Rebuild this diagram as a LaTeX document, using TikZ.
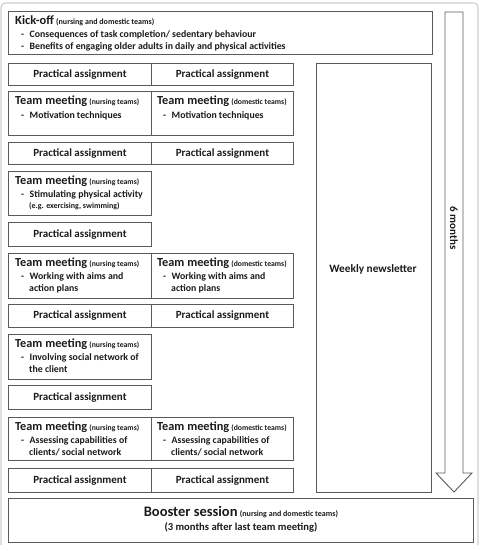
\documentclass[tikz,border=0pt]{standalone}
\usepackage{fontspec}
\setmainfont{Carlito}
\usetikzlibrary{positioning}

\definecolor{boxgray}{HTML}{5A5A5A}
\definecolor{framegray}{HTML}{A8A8A8}
\definecolor{inkgray}{HTML}{1A1A1A}

\tikzset{
  cell/.style={draw=boxgray, line width=0.9pt, anchor=north west, inner sep=0pt},
  pa/.style={cell, minimum height=#1, font=\bfseries\fontsize{11}{13}\selectfont, text=inkgray},
  pa/.default=22pt,
  tmtext/.style={anchor=north west, inner sep=0pt, align=left, text=inkgray,
    font=\bfseries\fontsize{9.8}{12.5}\selectfont},
}
% heading with small team note, and the dashed list lines
\newcommand{\tmhead}[2]{{\fontsize{12.3}{14}\selectfont #1} {\fontsize{7.7}{9}\selectfont(#2)}}
\newcommand{\dashline}[1]{\hspace*{6pt}-\hspace*{5.5pt}#1}
\newcommand{\contline}[1]{\hspace*{14pt}#1}

\begin{document}
\begin{tikzpicture}[x=1pt,y=-1pt]
\useasboundingbox (0,0) rectangle (480,551);

% outer frame
\draw[framegray, line width=0.6pt, rounded corners=4pt] (1,545) -- (1,3) -- (478,3) -- (478,545);

% kick-off
\node[cell, minimum width=424pt, minimum height=43pt] (kick) at (8,11) {};
\node[tmtext, below right=5pt and 7pt of kick.north west] (kicktxt)
  {{\fontsize{12.5}{13}\selectfont Kick-off} {\fontsize{8}{9}\selectfont(nursing and domestic teams)}\\
   \dashline{Consequences of task completion/ sedentary behaviour}\\
   \dashline{Benefits of engaging older adults in daily and physical activities}};

% row 1
\node[pa, minimum width=143pt] (pa1a) at (8,63) {Practical assignment};
\node[pa, minimum width=142pt] (pa1b) at (151,63) {Practical assignment};

% row 2
\node[cell, minimum width=143pt, minimum height=44pt] (tm1a) at (8,91) {};
\node[cell, minimum width=142pt, minimum height=44pt] (tm1b) at (151,91) {};
\node[tmtext, below right=5pt and 7pt of tm1a.north west, font=\bfseries\fontsize{9.8}{14}\selectfont] {\tmhead{Team meeting}{nursing teams}\\ \dashline{Motivation techniques}};
\node[tmtext, below right=5pt and 6pt of tm1b.north west, font=\bfseries\fontsize{9.8}{14}\selectfont] {\tmhead{Team meeting}{domestic teams}\\ \dashline{Motivation techniques}};

% row 3
\node[pa, minimum width=143pt] (pa2a) at (8,142) {Practical assignment};
\node[pa, minimum width=142pt] (pa2b) at (151,142) {Practical assignment};

% row 4
\node[cell, minimum width=143pt, minimum height=44pt] (tm2a) at (8,171) {};
\node[tmtext, below right=5pt and 7pt of tm2a.north west]
  {\tmhead{Team meeting}{nursing teams}\\ \dashline{Stimulating physical activity}\\[-1pt]
   \contline{\fontsize{8}{9.5}\selectfont(e.g. exercising, swimming)}};

% row 5
\node[pa=24pt, minimum width=143pt] (pa3a) at (8,222) {Practical assignment};

% row 6
\node[cell, minimum width=143pt, minimum height=45pt] (tm3a) at (8,253) {};
\node[cell, minimum width=142pt, minimum height=45pt] (tm3b) at (151,253) {};
\node[tmtext, below right=5pt and 7pt of tm3a.north west] {\tmhead{Team meeting}{nursing teams}\\ \dashline{Working with aims and}\\ \contline{action plans}};
\node[tmtext, below right=5pt and 6pt of tm3b.north west] {\tmhead{Team meeting}{domestic teams}\\ \dashline{Working with aims and}\\ \contline{action plans}};

% row 7
\node[pa=23pt, minimum width=143pt] (pa4a) at (8,304) {Practical assignment};
\node[pa=23pt, minimum width=142pt] (pa4b) at (151,304) {Practical assignment};

% row 8
\node[cell, minimum width=143pt, minimum height=45pt] (tm4a) at (8,334) {};
\node[tmtext, below right=5pt and 7pt of tm4a.north west] {\tmhead{Team meeting}{nursing teams}\\ \dashline{Involving social network of}\\ \contline{the client}};

% row 9
\node[pa=24pt, minimum width=143pt] (pa5a) at (8,385) {Practical assignment};

% row 10
\node[cell, minimum width=143pt, minimum height=43pt] (tm5a) at (8,417) {};
\node[cell, minimum width=142pt, minimum height=43pt] (tm5b) at (151,417) {};
\node[tmtext, below right=5pt and 7pt of tm5a.north west] {\tmhead{Team meeting}{nursing teams}\\ \dashline{Assessing capabilities of}\\ \contline{clients/ social network}};
\node[tmtext, below right=5pt and 6pt of tm5b.north west] {\tmhead{Team meeting}{domestic teams}\\ \dashline{Assessing capabilities of}\\ \contline{clients/ social network}};

% row 11
\node[pa=24pt, minimum width=143pt] (pa6a) at (8,468) {Practical assignment};
\node[pa=24pt, minimum width=142pt] (pa6b) at (151,468) {Practical assignment};

% newsletter column
\node[cell, minimum width=115pt, minimum height=429pt] (news) at (316,63) {};
\node[text=inkgray, font=\bfseries\fontsize{11.3}{13}\selectfont] (newstxt) at (373,269) {Weekly newsletter};

% six month arrow
\draw[boxgray, line width=0.9pt] (445,12) -- (463,12) -- (463,473) -- (472,473) -- (454,492)
  -- (436,473) -- (445,473) -- cycle;
\node[rotate=-90, text=inkgray, font=\bfseries\fontsize{11}{13}\selectfont] (months) at (454,228) {6 months};

% booster
\node[cell, minimum width=465pt, minimum height=44pt] (boost) at (8,498) {};
\node[align=center, text=inkgray, font=\bfseries\fontsize{10.6}{13.5}\selectfont, yshift=1pt] (boosttxt) at (boost.center)
  {{\fontsize{14.5}{15}\selectfont Booster session} {\fontsize{8}{9}\selectfont(nursing and domestic teams)}\\
   (3 months after last team meeting)};
\end{tikzpicture}
\end{document}
